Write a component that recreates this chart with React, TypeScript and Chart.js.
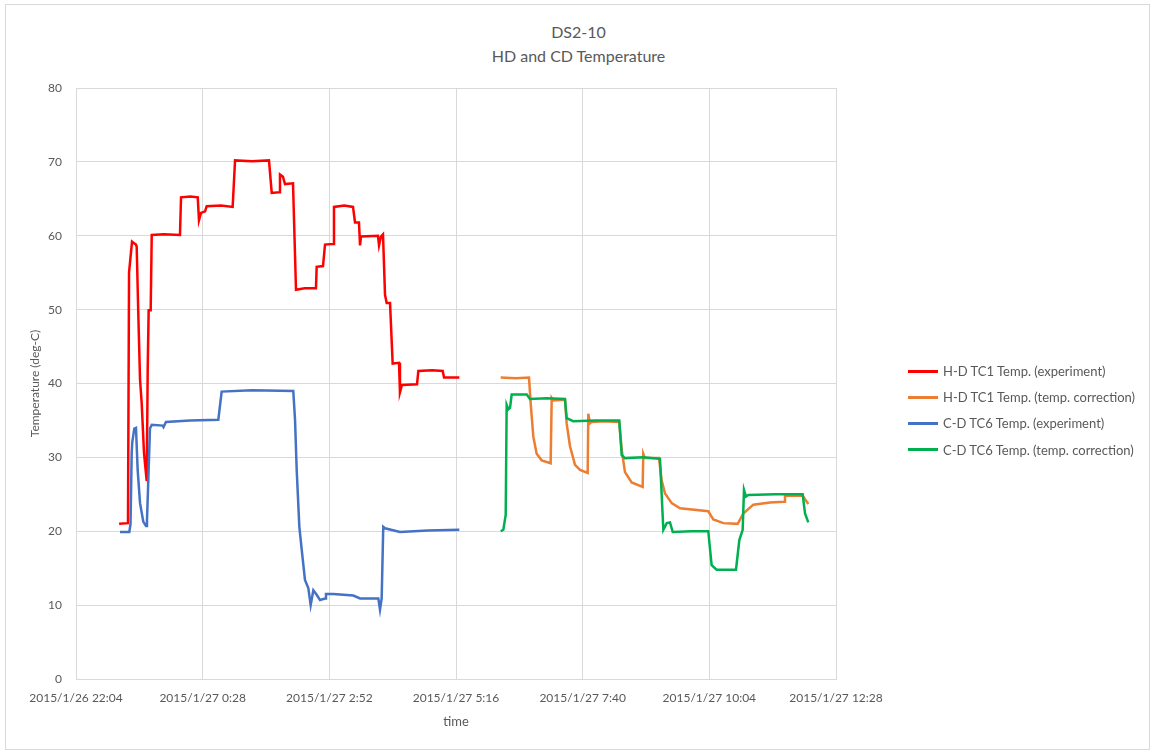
import React, { useEffect, useRef } from "react";
import { Chart, registerables } from "chart.js";

Chart.register(...registerables);

// minutes since 2015/1/26 22:04
const hdExpTime = [49, 59.1, 60.3, 63.7, 66, 68.2, 69, 70.8, 72.8, 74.7, 77.3, 80.4, 81.5, 82.6, 84.9, 86.1, 100, 118.2, 119.4, 130, 138.4, 139.8, 142.1, 146.7, 148.6, 165, 178.1, 180.8, 200, 219.4, 222.5, 230.8, 231.9, 235.3, 237.6, 246.7, 250.1, 260, 272.8, 273.6, 280.8, 283.1, 292.2, 293.3, 305, 314.9, 317.2, 321.7, 322.9, 324, 343.3, 344.5, 346.7, 349, 351.3, 353.2, 357, 360, 367.2, 368.3, 370.6, 387.7, 389.2, 405, 416.9, 418.4, 435.8];
const hdExpTemp = [21, 21.1, 55, 59.2, 59, 58.8, 58.5, 49.5, 40.5, 37.3, 30.6, 26.8, 41.8, 49.9, 49.9, 60.1, 60.2, 60.1, 65.2, 65.3, 65.2, 62.1, 63.1, 63.3, 64, 64.1, 63.9, 70.2, 70.1, 70.2, 65.8, 65.9, 68.3, 68, 67, 67.1, 52.7, 52.9, 52.9, 55.8, 55.9, 58.8, 58.9, 63.9, 64.1, 63.9, 61.8, 61.8, 58.7, 59.9, 60, 58.7, 59.9, 60.2, 52, 50.9, 50.9, 42.7, 42.8, 38.8, 39.8, 39.9, 41.7, 41.8, 41.7, 40.8, 40.8];

const hdCorTime = [482.8, 500, 515, 516.9, 519.9, 523.7, 529.4, 539.6, 540.8, 542.3, 555.9, 557.8, 561.6, 567.3, 573, 581.7, 582.4, 584.3, 586.3, 600, 617.6, 620.4, 624.1, 631.7, 644.2, 644.9, 646.8, 662.8, 665.8, 669.6, 677.2, 686.7, 718.8, 724.5, 735.9, 752.2, 758.6, 770, 789, 804.9, 806, 826.1, 832.5];
const hdCorTemp = [40.8, 40.7, 40.8, 37.3, 32.8, 30.5, 29.6, 29.2, 38, 37.7, 37.8, 34.6, 31.5, 29, 28.3, 27.9, 35.9, 34.6, 34.8, 34.9, 34.8, 31, 28, 26.6, 26, 30.5, 29.9, 29.9, 26.9, 25.1, 23.8, 23.1, 22.7, 21.6, 21.1, 21, 22.4, 23.6, 23.9, 24, 24.8, 24.8, 23.7];

const cdExpTime = [50, 60.6, 62, 63.3, 64, 66.3, 68.2, 70.1, 72.8, 76.5, 79.6, 80.7, 82.2, 84.1, 86.1, 98.6, 99.5, 102.3, 129.6, 161.8, 163.7, 165.6, 200, 247, 249, 250.9, 253.9, 256.6, 260.3, 264.1, 266.8, 269.8, 273.6, 277.4, 283.1, 284.2, 292.5, 315.3, 322.9, 343.7, 345.6, 347.5, 349.3, 351.3, 368.3, 400, 435.8];
const cdExpTemp = [19.9, 19.9, 21, 30.6, 32.1, 33.9, 34, 28.3, 23.8, 21.3, 20.7, 21.5, 26.9, 33.9, 34.4, 34.3, 34.1, 34.8, 35, 35.1, 37, 38.9, 39.1, 39, 35.1, 28.3, 20.6, 17.5, 13.4, 12.3, 10, 12, 11.4, 10.7, 10.9, 11.5, 11.5, 11.3, 10.9, 10.9, 9.4, 10.9, 20.6, 20.4, 19.9, 20.1, 20.2];

const cdCorTime = [482.8, 485.8, 488.5, 489.6, 491.5, 493.4, 495.3, 512.4, 516.1, 535, 555.9, 557.8, 565.3, 590, 617.6, 620.4, 624.1, 645, 663.9, 667.7, 671.6, 675.3, 678.4, 700, 718.8, 722.6, 728.3, 750.3, 754.1, 757.9, 759.4, 761.7, 764.3, 795, 826.1, 828.8, 832.5];
const cdCorTemp = [20, 20.2, 22.2, 37.1, 36.5, 36.7, 38.5, 38.5, 37.9, 38, 37.9, 35.3, 34.9, 35, 35, 30.3, 29.9, 30, 29.8, 20.2, 21.1, 21.2, 19.9, 20, 20, 15.4, 14.8, 14.8, 18.8, 20.2, 25.6, 24.7, 24.9, 25, 25, 22.4, 21.2];

const seriesNames = [
  "H-D TC1 Temp. (experiment)",
  "H-D TC1 Temp. (temp. correction)",
  "C-D TC6 Temp. (experiment)",
  "C-D TC6 Temp. (temp. correction)",
];
const seriesColors = ["#FF0000", "#ED7D31", "#4472C4", "#00B050"];

const titleLines = ["DS2-10", "HD and CD Temperature"];

const FONT = "Lato, 'Noto Sans', sans-serif";
const TEXT = "#595959";
const GRID = "#D9D9D9";

function toPoints(t: number[], v: number[]) {
  return t.map((x, i) => ({ x, y: v[i] }));
}

function timeLabel(min: number) {
  const total = 22 * 60 + 4 + min;
  const day = 26 + Math.floor(total / 1440);
  const rest = total % 1440;
  const hh = Math.floor(rest / 60);
  const mm = Math.round(rest % 60);
  return `2015/1/${day} ${hh}:${mm < 10 ? "0" + mm : mm}`;
}

export default function App() {
  const canvasRef = useRef<HTMLCanvasElement | null>(null);
  const chartRef = useRef<Chart | null>(null);

  useEffect(() => {
    document.body.style.margin = "0";
    if (!canvasRef.current) return;
    const ctx = canvasRef.current.getContext("2d");
    if (!ctx) return;
    if (chartRef.current) chartRef.current.destroy();

    const series = [
      toPoints(hdExpTime, hdExpTemp),
      toPoints(hdCorTime, hdCorTemp),
      toPoints(cdExpTime, cdExpTemp),
      toPoints(cdCorTime, cdCorTemp),
    ];

    chartRef.current = new Chart(ctx, {
      type: "line",
      data: {
        datasets: series.map((data, i) => ({
          label: seriesNames[i],
          data,
          borderColor: seriesColors[i],
          backgroundColor: seriesColors[i],
          borderWidth: 2.5,
          pointRadius: 0,
          tension: 0,
          fill: false,
          order: 4 - i,
        })),
      },
      options: {
        animation: false,
        responsive: true,
        maintainAspectRatio: false,
        layout: { padding: { left: 5, right: 321, top: 88, bottom: 15 } },
        plugins: {
          legend: { display: false },
          title: { display: false },
          tooltip: { enabled: false },
        },
        scales: {
          x: {
            type: "linear",
            min: 0,
            max: 864,
            afterFit: (s: any) => {
              s.height = 62;
            },
            ticks: {
              stepSize: 144,
              color: TEXT,
              font: { family: FONT, size: 12 },
              padding: 12,
              maxRotation: 0,
              callback: (v: any) => timeLabel(Number(v)),
            },
            grid: { color: GRID, drawTicks: false },
            border: { color: GRID },
            title: {
              display: true,
              text: "time",
              color: TEXT,
              font: { family: FONT, size: 13 },
              padding: { top: 0, bottom: 11 },
            },
          },
          y: {
            min: 0,
            max: 80,
            afterFit: (s: any) => {
              s.width = 71;
            },
            ticks: {
              stepSize: 10,
              color: TEXT,
              font: { family: FONT, size: 12 },
              padding: 14,
            },
            grid: { color: GRID, drawTicks: false },
            border: { color: GRID },
            title: {
              display: true,
              text: "Temperature (deg-C)",
              color: TEXT,
              font: { family: FONT, size: 12 },
              padding: { top: 23, bottom: 0 },
            },
          },
        },
      },
    });

    return () => {
      chartRef.current?.destroy();
      chartRef.current = null;
    };
  }, []);

  return (
    <div style={{ position: "relative", width: 1157, height: 756, background: "#fff", fontFamily: FONT, color: TEXT }}>
      <div style={{ position: "absolute", left: 5, top: 4, width: 1145, height: 746, border: `1px solid ${GRID}`, boxSizing: "border-box" }} />
      <div style={{ position: "absolute", left: 0, width: 1157, top: 20, textAlign: "center", fontSize: 16, lineHeight: "23.5px" }}>
        {titleLines.map((t) => (
          <div key={t}>{t}</div>
        ))}
      </div>
      <div style={{ position: "absolute", left: 0, top: 0, width: 1157, height: 756 }}>
        <canvas ref={canvasRef}></canvas>
      </div>
      <div style={{ position: "absolute", left: 908, top: 358 }}>
        {seriesNames.map((name, i) => (
          <div key={name} style={{ display: "flex", alignItems: "center", height: 26.2, fontSize: 13 }}>
            <span style={{ display: "inline-block", width: 30, height: 3, background: seriesColors[i], marginRight: 5 }} />
            <span>{name}</span>
          </div>
        ))}
      </div>
    </div>
  );
}
